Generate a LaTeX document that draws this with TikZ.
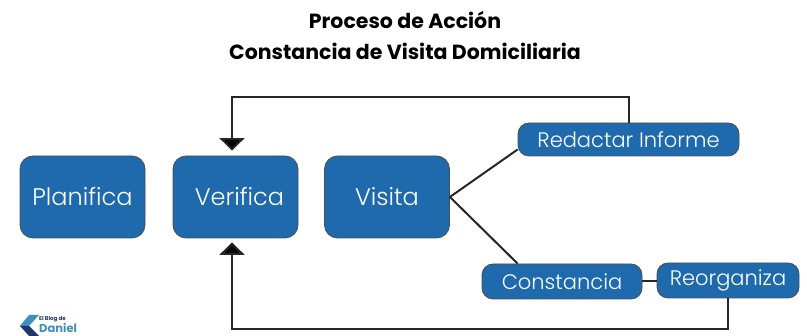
\documentclass[tikz,border=0pt]{standalone}
\usepackage{fontspec}
\setmainfont{Poppins}
\newfontfamily\lightfont{Poppins Light}
\usepackage{xcolor}
\usetikzlibrary{calc,arrows.meta}
\definecolor{boxblue}{HTML}{1E6AAC}
\definecolor{boxline}{HTML}{4A4F57}
\definecolor{logoblue}{HTML}{3F8FBF}
\definecolor{logonavy}{HTML}{23346F}
\tikzset{
  box/.style={draw=boxline, fill=boxblue, line width=0.8pt, rounded corners=13pt, text=white, inner sep=0pt, font=\lightfont\fontsize{24}{26}\selectfont},
  pill/.style={box, rounded corners=11pt, font=\lightfont\fontsize{21}{24}\selectfont},
  link/.style={draw=black!85, line width=2pt},
  tip/.style={-{Triangle[width=25pt,length=12.5pt,fill=black]}},
  titl/.style={font=\fontsize{20.5}{31}\selectfont\bfseries, align=center},
}

\begin{document}
\begin{tikzpicture}[x=1pt,y=-1pt]
  \useasboundingbox (0,0) rectangle (807,336);
  \node[titl] (titulo) at (405,36) {Proceso de Acción\\Constancia de Visita Domiciliaria};
  % main boxes
  \node[box,minimum width=125pt,minimum height=82pt] (planifica) at (82.5,197) {Planifica};
  \node[box,minimum width=125pt,minimum height=82pt] (verifica) at (235.5,197) {\hspace*{8pt}Verifica};
  \node[box,minimum width=125pt,minimum height=82pt] (visita) at (387,197) {Visita};
  \node[pill,minimum width=221pt,minimum height=33pt] (redactar) at (628.5,139.5) {Redactar Informe};
  \node[pill,minimum width=160pt,minimum height=35pt] (constancia) at (562,281.5) {Constancia};
  \node[pill,minimum width=142pt,minimum height=35pt] (reorganiza) at (728,280.5) {Reorganiza};
  % connectors
  \coordinate (topin) at ($(verifica.north)+(-3.5,-5)$);
  \coordinate (botin) at ($(verifica.south)+(-3.5,4)$);
  \draw[link,tip] (redactar.north) -- ++(0,-26) -| (topin);
  \draw[link,tip] (reorganiza.south) -- ++(0,31) -| (botin);
  \draw[link] (visita.east) -- ($(redactar.west)+(0,10)$);
  \draw[link] (visita.east) -- ($(constancia.north west)+(36,0)$);
  \draw[link] (constancia.east) -- (reorganiza.west |- constancia.east);
  % logo
  \fill[logoblue] (20,326) -- (29,315) -- (39,315) -- (29,326) -- cycle;
  \fill[logonavy] (20,326) -- (29,336) -- (39,336) -- (29,326) -- cycle;
  \node[font=\fontsize{5.5}{6}\selectfont\bfseries,text=logonavy,inner sep=0pt,anchor=west] (blog) at (39,319) {El Blog de};
  \node[font=\fontsize{11.5}{12}\selectfont\bfseries,text=logoblue,inner sep=0pt,anchor=west] (daniel) at (39,327.5) {Daniel};
\end{tikzpicture}
\end{document}
